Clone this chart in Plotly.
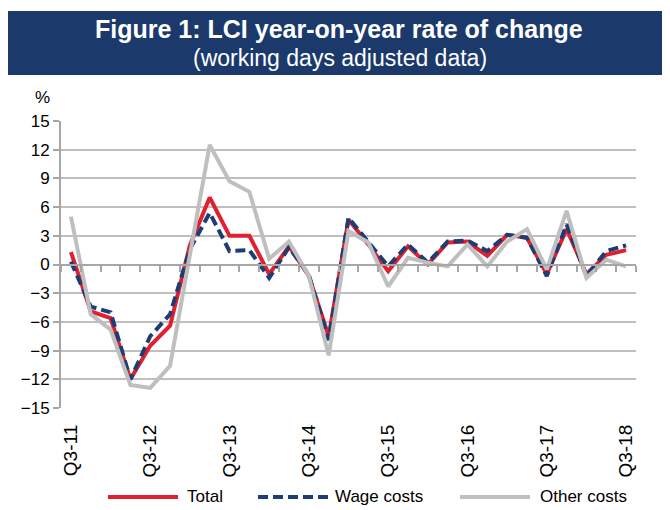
import plotly.graph_objects as go

quarters = ["Q3-11", "Q4-11", "Q1-12", "Q2-12", "Q3-12", "Q4-12", "Q1-13", "Q2-13",
            "Q3-13", "Q4-13", "Q1-14", "Q2-14", "Q3-14", "Q4-14", "Q1-15", "Q2-15",
            "Q3-15", "Q4-15", "Q1-16", "Q2-16", "Q3-16", "Q4-16", "Q1-17", "Q2-17",
            "Q3-17", "Q4-17", "Q1-18", "Q2-18", "Q3-18"]

total = [1.3, -4.9, -5.6, -12.0, -8.5, -6.4, 2.0, 7.0, 3.0, 3.0, -1.0, 1.9, -1.2, -7.5,
         4.7, 2.1, -0.7, 1.9, 0.0, 2.3, 2.4, 0.9, 3.1, 2.8, -1.0, 3.7, -1.0, 1.0, 1.5]
wage_costs = [0.3, -4.4, -5.0, -12.0, -7.5, -5.2, 1.6, 5.4, 1.4, 1.5, -1.4, 1.8, -1.1, -7.9,
              4.9, 2.3, -0.2, 2.1, 0.2, 2.4, 2.5, 1.4, 3.1, 2.8, -1.2, 4.2, -1.2, 1.4, 2.0]
other_costs = [5.0, -5.2, -6.8, -12.6, -12.9, -10.6, 1.0, 12.5, 8.7, 7.6, 0.6, 2.4, -1.2, -9.5,
               3.5, 2.3, -2.3, 0.7, 0.2, -0.2, 2.1, -0.2, 2.4, 3.7, -0.5, 5.6, -1.4, 0.5, -0.2]

series_names = ["Total", "Wage costs", "Other costs"]
y_ticks = [-15, -12, -9, -6, -3, 0, 3, 6, 9, 12, 15]

RED = "#e1202f"
BLUE = "#1d3d74"
GRAY = "#bfbfbf"
AXIS = "#a6a6a6"
BANNER = "#1b3a6b"
FONT = "Liberation Sans"
DASH = "10px,5px"

# page body has an 8px margin, so the figure is sized to fill the window from (8, 8)
OFF = 8
W, H = 662, 502
L, R, T, B = 53, 34, 113, 102
pw, ph = W - L - R, H - T - B


def px(x):
    """window x pixel -> paper x"""
    return (x - OFF - L) / pw


def py(y):
    """window y pixel -> paper y"""
    return (H - B - (y - OFF)) / ph


fig = go.Figure()
fig.add_trace(go.Scatter(x=quarters, y=total, mode="lines", name=series_names[0],
                         line=dict(color=RED, width=4), showlegend=False))
fig.add_trace(go.Scatter(x=quarters, y=wage_costs, mode="lines", name=series_names[1],
                         line=dict(color=BLUE, width=4, dash=DASH), showlegend=False))
fig.add_trace(go.Scatter(x=quarters, y=other_costs, mode="lines", name=series_names[2],
                         line=dict(color=GRAY, width=4), showlegend=False))
# helper trace for the zero-line tick axis
fig.add_trace(go.Scatter(x=[], y=[], xaxis="x2", showlegend=False, hoverinfo="skip"))

n = len(quarters)
fig.update_layout(
    width=W, height=H,
    margin=dict(l=L, r=R, t=T, b=B),
    paper_bgcolor="white", plot_bgcolor="white",
    font=dict(family=FONT, color="black", size=16),
    xaxis=dict(type="category", categoryorder="array", categoryarray=quarters,
               range=[-0.5, n - 0.5], tickvals=quarters[::4], ticktext=quarters[::4],
               tickangle=-90, showgrid=False, showline=False, zeroline=False,
               ticks="", ticklabelstandoff=12, tickfont=dict(size=19, family=FONT)),
    xaxis2=dict(overlaying="x", anchor="free", position=0.5, side="bottom",
                type="linear", range=[-0.5, n - 0.5],
                tickvals=[k - 0.5 for k in range(n + 1)], ticks="outside", ticklen=6,
                tickwidth=2, tickcolor=AXIS, showticklabels=False, showline=True,
                linecolor=AXIS, linewidth=2, showgrid=False, zeroline=False),
    yaxis=dict(range=[-15, 15], tickvals=y_ticks, showgrid=True, gridcolor=GRAY,
               gridwidth=2, showline=True, linecolor=AXIS, linewidth=2, ticks="outside",
               ticklen=6, tickwidth=2, tickcolor=AXIS, zeroline=False,
               tickfont=dict(size=17, family=FONT)),
    showlegend=False,
)

# title banner
fig.add_shape(type="rect", xref="paper", yref="paper", x0=px(8), x1=px(671),
              y0=py(75), y1=py(11), fillcolor=BANNER, line=dict(width=0), layer="below")
fig.add_annotation(xref="paper", yref="paper", x=px(339), y=py(29), showarrow=False,
                   text="<b>Figure 1: LCI year-on-year rate of change</b>",
                   font=dict(family=FONT, size=25, color="white"),
                   xanchor="center", yanchor="middle")
fig.add_annotation(xref="paper", yref="paper", x=px(340), y=py(58), showarrow=False,
                   text="(working days adjusted data)",
                   font=dict(family=FONT, size=23, color="white"),
                   xanchor="center", yanchor="middle")
fig.add_annotation(xref="paper", yref="paper", x=px(42), y=py(97), showarrow=False,
                   text="%", font=dict(family=FONT, size=17, color="black"),
                   xanchor="center", yanchor="middle")

# legend
legend_items = [(series_names[0], RED, "solid", 108, 185),
                (series_names[1], BLUE, DASH, 258, 333),
                (series_names[2], GRAY, "solid", 460, 538)]
for name, color, dash, x0, tx in legend_items:
    fig.add_shape(type="line", xref="paper", yref="paper", x0=px(x0), x1=px(x0 + 70),
                  y0=py(497), y1=py(497), line=dict(color=color, width=4, dash=dash))
    fig.add_annotation(xref="paper", yref="paper", x=px(tx), y=py(497), showarrow=False,
                       text=name, font=dict(family=FONT, size=17, color="black"),
                       xanchor="left", yanchor="middle")

fig.write_html("out.html")
